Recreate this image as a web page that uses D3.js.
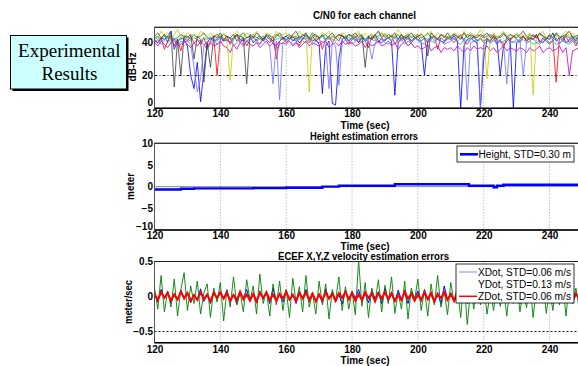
<!DOCTYPE html>
<html><head><meta charset="utf-8">
<script src="https://cdn.jsdelivr.net/npm/d3@7"></script>
<style>
html,body{margin:0;padding:0;background:#fff;}
svg{display:block;}
text{font-family:"Liberation Sans",Arial,sans-serif;}
</style></head>
<body>
<script>
// ---------- DATA ----------
const xTicks = [120,140,160,180,200,220,240];
const cnTicks = [0,20,40];
const hTicks = [10,5,0,-5,-10];
const vTicks = [0.5,0,-0.5];
const cnStart = 120; // first second of the C/N0 and velocity records (1 s step)

const cnBlue = [41,40,43,42,44,47,36,41,43,42, 38,20,12,28,4,22,40,43,41,42, 44,41,42,40,43,45,42,41,43,44, 40,42,43,41,44,42,40,38,41,43,
 42,44,41,43,40,42,45,43,41,42, 39,9,38,41,3,2,30,42,44,41, 43,42,40,44,41,43,42,45,41,40, 42,43,41,8,40,43,42,44,41,43,
 42,40,20,41,43,44,42,41,40,43, 42,44,41,0,38,42,43,41,40,0, 30,42,41,44,42,20,38,41,43,0, 40,42,44,41,43,42,45,41,40,43,
 42,46,41,43,44,40,42,43,41,44, 42];
const cnGreen = [43,44,42,45,43,44,42,43,45,44, 44,42,45,43,44,46,43,42,44,45, 43,45,44,42,43,45,44,46,43,44, 45,43,44,42,45,44,43,45,44,42,
 44,45,43,44,42,45,44,43,46,44, 43,44,45,42,44,43,45,44,43,45, 44,43,45,44,42,44,45,43,44,46, 43,45,44,43,45,42,44,45,43,44,
 45,43,44,46,43,44,42,45,44,43, 44,45,43,44,42,45,44,43,45,44, 43,44,45,42,44,43,45,44,42,44, 45,43,44,42,45,44,43,45,44,43,
 44,42,45,43,44,45,43,44,42,45, 44];
const cnRed = [42,40,43,36,41,44,38,42,35,43, 41,44,40,42,39,43,37,41,44,20, 43,41,44,39,42,45,40,43,38,42, 44,41,39,43,42,40,44,30,41,43,
 40,42,44,41,38,43,42,40,44,41, 43,36,42,44,40,43,41,45,42,39, 42,44,40,43,41,37,44,42,40,43, 41,43,44,39,42,45,41,43,40,42,
 44,41,43,40,42,44,36,43,41,44, 42,40,43,45,41,39,42,44,41,43, 40,43,41,44,39,42,37,43,41,44, 42,40,44,41,43,42,45,40,43,41,
 39,42,16,43,41,44,40,42,38,43, 41];
const cnCyan = [42,43,41,42,44,42,43,41,42,43, 42,41,43,42,41,43,42,44,42,41, 43,42,41,43,42,44,42,43,41,42, 43,41,42,44,42,43,41,42,43,42,
 41,43,42,41,44,42,43,42,41,43, 42,44,41,43,42,41,43,42,44,42, 43,41,42,43,41,44,42,41,43,42, 41,43,42,44,42,41,43,42,41,43,
 42,41,43,42,44,41,42,43,41,42, 43,42,41,43,42,41,42,43,41,42, 41,42,40,41,42,40,41,42,40,41, 40,41,42,40,41,39,40,41,40,42,
 40,41,39,40,41,40,39,41,40,41, 40];
const cnMagenta = [40,38,41,39,37,40,42,38,39,41, 39,37,40,38,41,39,36,40,38,39, 41,38,37,34,39,36,40,38,41,39, 38,40,37,39,41,38,40,36,39,40,
 39,41,38,40,37,39,41,38,40,39, 38,40,41,37,39,40,38,41,39,40, 40,38,39,41,37,40,38,39,41,38, 39,41,38,40,36,39,41,38,40,37,
 38,36,37,39,35,37,38,34,37,36, 37,35,38,36,34,37,35,38,36,37, 36,38,35,37,34,36,38,35,37,36, 35,37,36,34,37,35,36,38,34,36,
 37,35,36,38,34,37,20,35,36,37, 38];
const cnYellow = [45,43,47,44,46,42,45,48,44,43, 46,44,45,43,47,45,44,46,43,45, 44,46,42,17,44,47,45,43,46,44, 45,47,43,44,46,45,43,47,44,45,
 46,44,45,43,47,44,46,10,45,43, 44,46,45,47,43,45,44,46,45,43, 45,44,47,43,46,44,45,43,47,44, 46,43,45,44,48,45,43,46,44,45,
 43,46,44,45,47,43,46,44,45,43, 44,46,45,43,47,44,46,45,44,48, 45,18,44,46,43,45,47,44,45,43, 46,44,45,43,46,8,44,45,47,43,
 45,44,46,43,45,47,44,46,43,45, 44];
const cnBlack = [44,46,43,45,40,47,13,42,20,44, 43,45,30,44,42,16,40,25,44,43, 46,42,44,43,45,41,44,43,15,45, 43,46,44,42,45,43,41,44,46,43,
 44,42,45,47,43,44,46,42,44,45, 43,45,42,44,46,43,45,44,42,45, 44,46,43,45,25,44,42,45,47,43, 45,43,44,46,42,45,43,44,46,43,
 44,45,43,32,46,44,42,45,43,46, 43,45,44,42,46,43,45,44,43,45, 44,46,43,45,42,44,46,43,45,44, 43,45,47,44,42,45,43,46,44,42,
 45,43,46,44,42,45,47,43,44,45, 44];
const cnBlue2 = [40,42,39,41,43,40,42,38,41,40, 41,39,25,10,18,38,41,40,42,39, 40,42,41,43,38,40,42,39,41,43, 41,40,39,42,40,38,15,41,5,40,
 42,41,39,40,43,41,40,42,39,41, 40,41,39,12,40,38,14,40,42,41, 39,41,43,40,42,41,30,40,41,42, 40,39,41,43,40,42,39,41,40,43,
 41,40,39,42,41,40,43,41,39,40, 41,43,40,39,42,5,40,41,42,0, 39,41,40,42,39,41,40,15,41,40, 42,41,20,40,41,43,40,39,42,41,
 40,41,43,39,42,40,41,43,40,39, 41];
const cnColors = ["#0000ff","#008000","#ff0000","#00bfbf","#bf00bf","#c8c800","#3f3f3f","#6f6fff"];

const heightTime = [120,128,132,150,160,171,176,193,215.5,223,224,226,250];
const heightErr  = [-0.65,-0.5,-0.4,-0.35,-0.25,0,0.2,0.55,0.2,-0.15,0.2,0.45,0.45];

const xDot = [.05,-.08,.10,-.03,.07,-.10,.04,-.06,.09,-.02, .06,-.09,.03,-.05,.11,-.07,.02,-.10,.08,-.04, .07,-.03,.09,-.08,.04,-.11,.06,-.02,.10,-.06,
 .03,-.09,.08,-.04,.06,-.10,.12,-.05,.02,-.08, .09,-.06,.04,-.10,.07,-.03,.10,-.08,.05,-.07, .02,-.09,.11,-.04,.06,-.08,.03,-.11,.09,-.05,
 .07,-.02,.10,-.07,.04,-.09,.08,-.03,.06,-.10, .12,-.06,.03,-.08,.09,-.04,.05,-.10,.07,-.02, .08,-.07,.10,-.05,.03,-.09,.06,-.11,.15,-.04,
 .05,-.08,.09,-.03,.07,-.10,.04,-.06,.08,-.09, .06,-.04,.10,-.07,.03,-.09,.08,-.05,.11,-.06, .04,-.10,.07,-.03,.09,-.06,.05,-.08,.02,-.07,
 .08,-.05,.10,-.09,.06,-.03,.07,-.10,.04,-.06, .03];
const yDot = [.12,-.18,.30,-.22,.08,-.15,.25,-.28,.10,.34, -.20,.15,-.10,.22,-.25,.05,.18,-.30,.12,-.08, .20,-.35,.10,-.15,.28,-.12,.06,-.22,.24,-.05,
 .15,-.25,.32,-.10,.08,-.28,.18,-.12,.22,-.20, .10,-.30,.26,-.08,.14,-.22,.30,-.15,.05,-.25, .22,-.12,.18,-.32,.10,-.06,.28,-.20,.14,-.18,
 .08,-.26,.52,-.14,.20,-.30,.12,-.08,.24,-.22, .16,-.10,.28,-.24,.06,-.18,.22,-.32,.12,-.05, .25,-.20,.10,-.28,.18,-.12,.30,-.15,.08,-.26,
 .20,-.08,.14,-.30,.24,-.40,.10,-.18,.26,-.12, .18,-.25,.06,-.20,.22,-.14,.12,-.28,.16,-.10, .24,-.22,.08,-.16,.20,-.30,.14,-.06,.18,-.24,
 .10,-.20,.26,-.12,.16,-.28,.22,-.08,.12,-.18, .05];
const zDot = [.04,-.05,.06,-.02,.05,-.06,.03,-.04,.07,-.03, .05,-.06,.02,-.05,.06,-.04,.03,-.07,.05,-.02, .06,-.03,.05,-.06,.02,-.05,.07,-.04,.03,-.06,
 .04,-.07,.05,-.02,.06,-.05,.03,-.06,.04,-.03, .07,-.04,.02,-.06,.05,-.03,.06,-.05,.04,-.07, .03,-.05,.06,-.03,.04,-.06,.05,-.02,.07,-.04,
 .05,-.06,.03,-.05,.06,-.02,.04,-.07,.05,-.03, .06,-.04,.05,-.06,.02,-.05,.07,-.03,.04,-.06, .03,-.05,.06,-.04,.05,-.07,.03,-.02,.06,-.05,
 .04,-.06,.05,-.03,.07,-.04,.02,-.06,.05,-.03, .06,-.05,.04,-.07,.03,-.04,.06,-.02,.05,-.06, .03,-.04,.07,-.05,.02,-.06,.05,-.03,.06,-.04,
 .05,-.07,.04,-.02,.06,-.05,.03,-.06,.04,-.03, .05];

// ---------- DRAW ----------
const W = 578, H = 366;
const svg = d3.select("body").append("svg").attr("width", W).attr("height", H);
const defs = svg.append("defs");

// Experimental Results box
svg.append("rect").attr("x", 12.5).attr("y", 37.5).attr("width", 116).attr("height", 53.5).attr("fill", "#000");
svg.append("rect").attr("x", 10.5).attr("y", 35.5).attr("width", 116).attr("height", 53.5)
  .attr("fill", "#ccffff").attr("stroke", "#000").attr("stroke-width", 1);
svg.append("text").attr("x", 69.3).attr("y", 57.3).attr("text-anchor", "middle")
  .style("font-family", "'Liberation Serif','Times New Roman',serif").style("font-size", "19px").text("Experimental");
svg.append("text").attr("x", 69.5).attr("y", 80).attr("text-anchor", "middle")
  .style("font-family", "'Liberation Serif','Times New Roman',serif").style("font-size", "19px").text("Results");

const L = 154.5, R = 582.5;
const x = d3.scaleLinear().domain([120, 250]).range([L, R]);

function panel(cfg) {
  const g = svg.append("g");
  const y = d3.scaleLinear().domain(cfg.domain).range([cfg.bottom, cfg.top]);
  const id = "clip" + cfg.key;
  defs.append("clipPath").attr("id", id).append("rect")
    .attr("x", L).attr("y", cfg.top).attr("width", R - L).attr("height", cfg.bottom - cfg.top);
  g.append("rect").attr("x", L).attr("y", cfg.top).attr("width", R - L).attr("height", cfg.bottom - cfg.top).attr("fill", "#fff");
  // vertical grid
  g.selectAll(".vg").data(xTicks.slice(1)).join("line")
    .attr("x1", d => x(d)).attr("x2", d => x(d)).attr("y1", cfg.top).attr("y2", cfg.bottom)
    .attr("stroke", "#8a8a8a").attr("stroke-width", 0.8).attr("stroke-dasharray", "1,2");
  // horizontal reference line
  g.append("line").attr("x1", L).attr("x2", R).attr("y1", y(cfg.hline)).attr("y2", y(cfg.hline))
    .attr("stroke", "#000").attr("stroke-width", 0.9).attr("stroke-dasharray", cfg.hdash);
  const data = g.append("g").attr("clip-path", `url(#${id})`);
  // box
  g.append("rect").attr("x", L).attr("y", cfg.top).attr("width", R - L).attr("height", cfg.bottom - cfg.top)
    .attr("fill", "none").attr("stroke", "#555").attr("stroke-width", 1);
  g.append("line").attr("x1", L).attr("x2", R).attr("y1", cfg.bottom).attr("y2", cfg.bottom)
    .attr("stroke", "#000").attr("stroke-width", 1.6);
  g.append("line").attr("x1", L).attr("x2", R).attr("y1", cfg.top).attr("y2", cfg.top)
    .attr("stroke", "#222").attr("stroke-width", 1.1);
  // axes
  const ax = g.append("g").attr("transform", `translate(0,${cfg.bottom})`)
    .call(d3.axisBottom(x).tickValues(xTicks).tickSize(0).tickPadding(cfg.xpad).tickFormat(d3.format("d")));
  ax.select(".domain").remove();
  ax.selectAll("text").style("font-size", "10px").style("font-weight", "bold").attr("fill", "#000")
    .style("font-family", "'Liberation Sans',Arial,sans-serif");
  const ay = g.append("g").attr("transform", `translate(${L},0)`)
    .call(d3.axisLeft(y).tickValues(cfg.yticks).tickSize(0).tickPadding(1.5).tickFormat(cfg.yfmt));
  ay.select(".domain").remove();
  ay.selectAll("text").style("font-size", "10px").style("font-weight", "bold").attr("fill", "#000")
    .style("font-family", "'Liberation Sans',Arial,sans-serif");
  // lowest y label sits a little higher, as in the original
  ay.selectAll(".tick").filter(d => d === cfg.yticks[cfg.lowIdx]).select("text").attr("dy", cfg.lowDy);
  // titles
  const bold = sel => sel.style("font-size", "10px").style("font-weight", "bold").attr("text-anchor", "middle")
    .attr("lengthAdjust", "spacingAndGlyphs");
  g.append("text").attr("x", cfg.titleX).attr("y", cfg.titleY).attr("textLength", cfg.titleLen).call(bold).text(cfg.title);
  g.append("text").attr("x", 365).attr("y", cfg.xlabY).attr("textLength", 49).call(bold).text("Time (sec)");
  g.append("text").attr("transform", `translate(${cfg.ylabX},${cfg.ylabY}) rotate(-90)`)
    .attr("textLength", cfg.ylabLen).call(bold).text(cfg.ylab);
  return {g, y, data};
}

// Panel 1: C/N0
const p1 = panel({key: 1, top: 27.3, bottom: 108.3, domain: [0, 49.4], yticks: cnTicks, lowIdx: 0, lowDy: "-0.25em", yfmt: d3.format("d"),
  hline: 20, hdash: "3,2,1,2", xpad: 2,
  title: "C/N0 for each channel", titleX: 364.5, titleY: 18.6, titleLen: 103,
  xlabY: 129.2, ylab: "dB-Hz", ylabX: 135.6, ylabY: 67, ylabLen: 29});
const cnSeries = [cnBlue, cnGreen, cnRed, cnCyan, cnMagenta, cnYellow, cnBlack, cnBlue2];
const cnLine = d3.line().x((d, i) => x(cnStart + i)).y(d => p1.y(d));
p1.data.selectAll(".cn").data(cnSeries).join("path")
  .attr("d", cnLine).attr("fill", "none")
  .attr("stroke", (d, i) => cnColors[i]).attr("stroke-width", 0.9).attr("stroke-opacity", 0.9);

// Panel 2: height
const p2 = panel({key: 2, top: 143.3, bottom: 230, domain: [-10, 10], yticks: hTicks, lowIdx: 4, lowDy: "-0.05em", yfmt: d3.format("d"),
  hline: 0, hdash: "1,1", xpad: 1.5,
  title: "Height estimation errors", titleX: 364, titleY: 140.4, titleLen: 108,
  xlabY: 249.8, ylab: "meter", ylabX: 133.6, ylabY: 186.4, ylabLen: 27});
const hLine = d3.line().x((d, i) => x(heightTime[i])).y(d => p2.y(d)).curve(d3.curveStepAfter);
p2.data.append("path").attr("d", hLine(heightErr)).attr("fill", "none").attr("stroke", "#0000ff").attr("stroke-width", 2.4);
// legend
const lg2 = svg.append("g");
lg2.append("rect").attr("x", 457).attr("y", 146).attr("width", 117).attr("height", 16)
  .attr("fill", "#fff").attr("stroke", "#000").attr("stroke-width", 0.8);
lg2.append("line").attr("x1", 460).attr("x2", 478).attr("y1", 154.3).attr("y2", 154.3).attr("stroke", "#0000ff").attr("stroke-width", 2.6);
lg2.append("text").attr("x", 478.5).attr("y", 157.8).attr("textLength", 92.5).attr("lengthAdjust", "spacingAndGlyphs")
  .style("font-size", "10px").text("Height, STD=0.30 m");

// Panel 3: velocity
const p3 = panel({key: 3, top: 261.5, bottom: 342.7, domain: [-0.66, 0.5], yticks: vTicks, lowIdx: 2, lowDy: "0.32em", yfmt: d => d === 0 ? "0" : d3.format(".1f")(d),
  hline: -0.5, hdash: "2,2", xpad: 3.6,
  title: "ECEF X,Y,Z velocity estimation errors", titleX: 363.5, titleY: 260.4, titleLen: 171,
  xlabY: 363.6, ylab: "meter/sec", ylabX: 131.8, ylabY: 302, ylabLen: 44});
const vLine = d3.line().x((d, i) => x(cnStart + i)).y(d => p3.y(d));
p3.data.append("path").attr("d", vLine(xDot)).attr("fill", "none").attr("stroke", "#0000ff").attr("stroke-width", 1);
p3.data.append("path").attr("d", vLine(yDot)).attr("fill", "none").attr("stroke", "#008000").attr("stroke-width", 0.9);
p3.data.append("path").attr("d", vLine(zDot)).attr("fill", "none").attr("stroke", "#ff0000").attr("stroke-width", 2);
const lg3 = svg.append("g");
lg3.append("rect").attr("x", 456).attr("y", 264).attr("width", 118).attr("height", 39)
  .attr("fill", "#fff").attr("stroke", "#000").attr("stroke-width", 0.8);
const legItems = [
  {label: "XDot, STD=0.06 m/s", color: "#a8b0ff", y: 272},
  {label: "YDot, STD=0.13 m/s", color: null, y: 284.5},
  {label: "ZDot, STD=0.06 m/s", color: "#ff0000", y: 296.3}];
legItems.forEach(it => {
  if (it.color) lg3.append("line").attr("x1", 459).attr("x2", 477).attr("y1", it.y).attr("y2", it.y)
    .attr("stroke", it.color).attr("stroke-width", 1.5);
  lg3.append("text").attr("x", 478).attr("y", it.y + 3.6).attr("textLength", 93).attr("lengthAdjust", "spacingAndGlyphs")
    .style("font-size", "10px").text(it.label);
});
</script>
</body></html>
